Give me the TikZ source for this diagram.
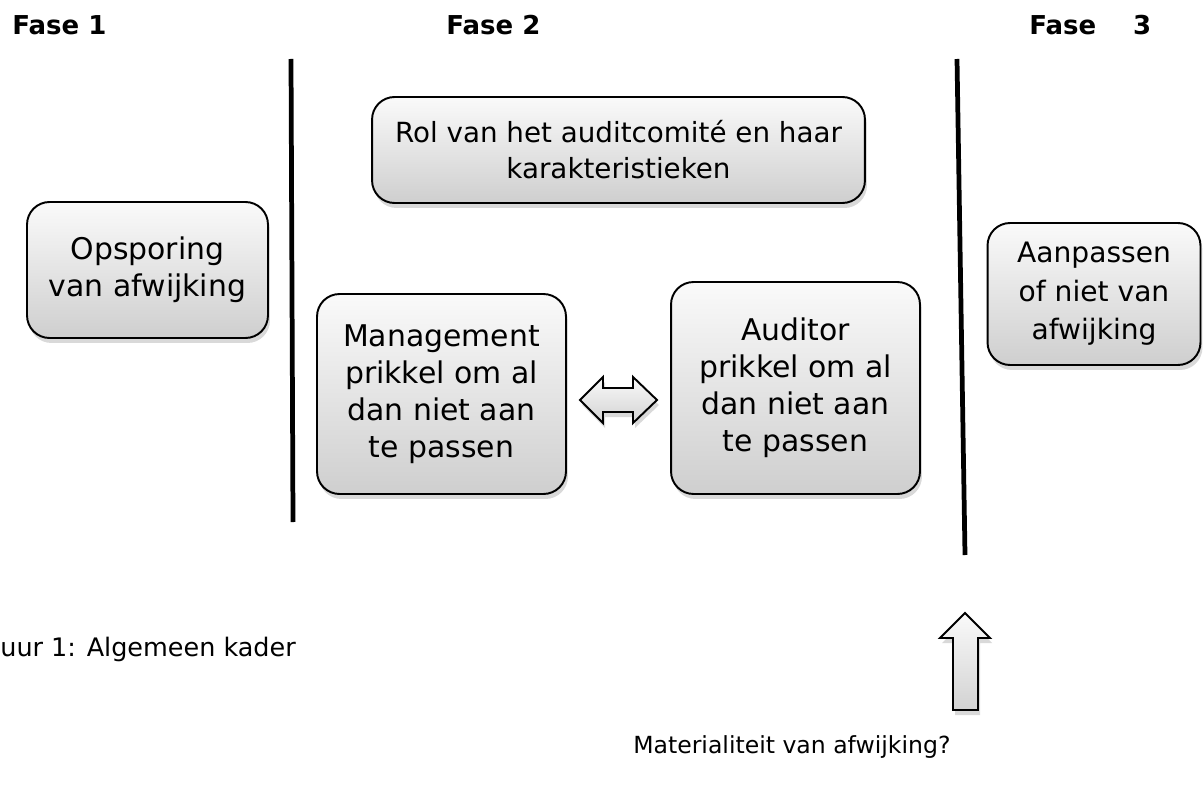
\documentclass[tikz,border=0pt]{standalone}
\usepackage{fontspec}
\setmainfont{DejaVu Sans}
\usetikzlibrary{shadows}

\tikzset{
  blok/.style={draw=black, line width=1.1pt, rounded corners=0.45cm,
    top color=gray!4, bottom color=gray!38,
    drop shadow={opacity=0.3, shadow xshift=0.4mm, shadow yshift=-1mm},
    align=center, inner sep=0pt,
    font=\fontsize{17}{21}\selectfont},
  fase/.style={anchor=base west, inner sep=0pt,
    font=\fontsize{14.8}{17}\selectfont\bfseries},
  tekst/.style={anchor=base west, inner sep=0pt,
    font=\fontsize{14.5}{17}\selectfont},
  scheiding/.style={line width=2.7pt},
  pijl/.style={draw=black, line width=1.1pt, line join=miter,
    top color=gray!4, bottom color=gray!35,
    drop shadow={opacity=0.3, shadow xshift=0.4mm, shadow yshift=-1mm}}
}

\begin{document}
\begin{tikzpicture}[x=0.02cm, y=-0.02cm]
\useasboundingbox (0,0) rectangle (1203,787);
%fasen:
\node[fase] (fase1) at (12,35) {Fase 1};
\node[fase] (fase2) at (446,35) {Fase 2};
\node[fase] (fase3) at (1029,35) {Fase\hspace{0.74cm}3};
%scheidingslijnen:
\draw[scheiding] (291,59) -- (293,522);
\draw[scheiding] (957,59) -- (965,555);
%blokken:
\node[blok, minimum width=4.82cm, minimum height=2.72cm] (opsporing) at (147.5,270)
  {Opsporing\\van afwijking};
\node[blok, minimum width=9.86cm, minimum height=2.12cm,
  font=\fontsize{15.8}{20.5}\selectfont] (rol) at (618.5,150)
  {Rol van het auditcomité en haar\\karakteristieken};
\node[blok, minimum width=4.98cm, minimum height=4.0cm] (management) at (441.5,394)
  {Management\\prikkel om al\\dan niet aan\\te passen};
\node[blok, minimum width=4.98cm, minimum height=4.24cm] (auditor) at (795.5,388)
  {Auditor\\prikkel om al\\dan niet aan\\te passen};
\node[blok, minimum width=4.26cm, minimum height=2.84cm,
  font=\fontsize{16}{22}\selectfont] (aanpassen) at (1094,294)
  {Aanpassen\\of niet van\\afwijking};
%pijlen:
\draw[pijl] (580,400) -- (603,377) -- (603,388) -- (633,388) -- (633,377)
  -- (657,400) -- (633,423) -- (633,412) -- (603,412) -- (603,423) -- cycle;
\draw[pijl] (965,613) -- (990,638) -- (978,638) -- (978,710) -- (953,710)
  -- (953,638) -- (940,638) -- cycle;
%onderschriften:
\node[tekst] (figuur) at (0,656) {uur 1: Algemeen kader};
\node[tekst, font=\fontsize{13.4}{15}\selectfont] (materialiteit) at (633,753)
  {Materialiteit van afwijking?};
\end{tikzpicture}
\end{document}
